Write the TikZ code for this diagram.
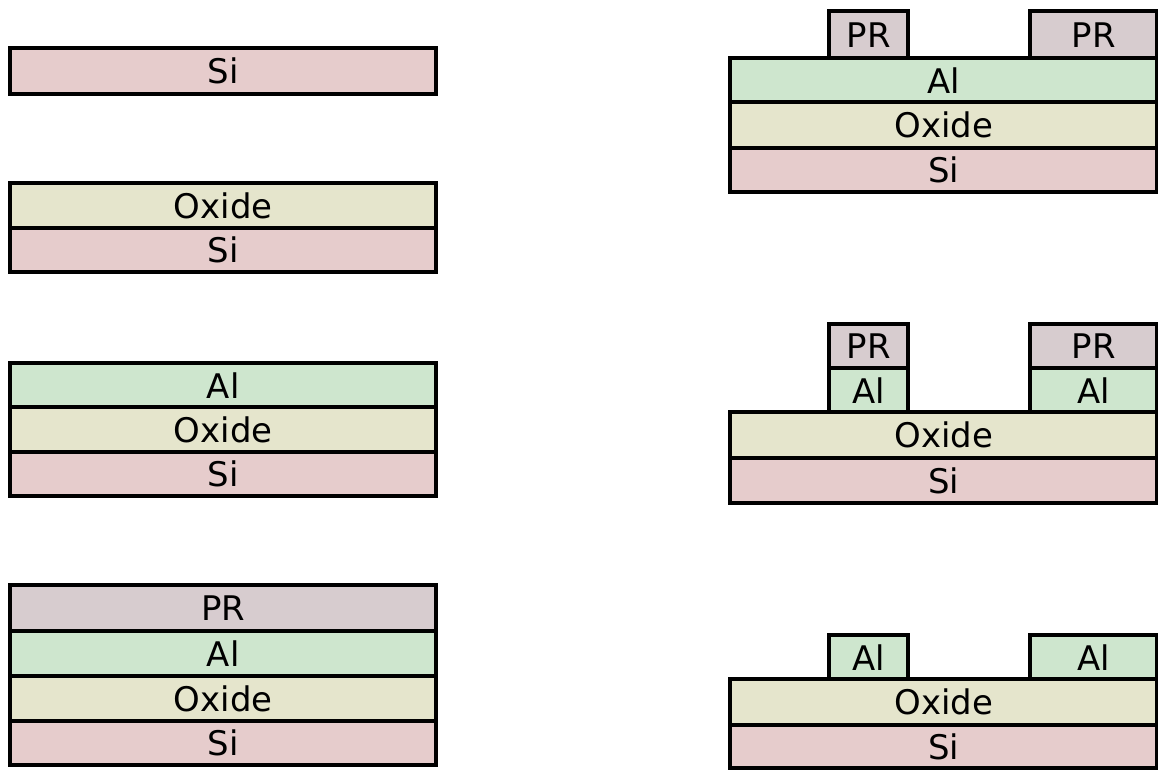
\documentclass[tikz,border=0pt]{standalone}
\usepackage{fontspec}
\setmainfont{DejaVu Sans}
\definecolor{siC}{RGB}{230,204,204}
\definecolor{oxC}{RGB}{229,229,204}
\definecolor{alC}{RGB}{206,230,206}
\definecolor{prC}{RGB}{215,204,207}
\begin{document}
\begin{tikzpicture}[x=0.02cm,y=-0.02cm,
  layer/.style={draw=black, line width=2.5pt, inner sep=0pt, anchor=north west,
    font=\fontsize{19.3}{22}\selectfont},
  wd/.style={minimum width=#1*0.02cm},
  ht/.style={minimum height=#1*0.02cm},
  si/.style={layer, fill=siC},
  ox/.style={layer, fill=oxC},
  al/.style={layer, fill=alC},
  pr/.style={layer, fill=prC}]
\useasboundingbox (0,0) rectangle (1158,769);

% step 1: bare wafer
\node[si, wd=426, ht=46] (s1si) at (8,46) {Si};

% step 2: oxidation
\node[ox, wd=426, ht=45] (s2ox) at (8,181) {Oxide};
\node[si, wd=426, ht=44] (s2si) at (8,226) {Si};

% step 3: aluminium deposition
\node[al, wd=426, ht=44] (s3al) at (8,361) {Al};
\node[ox, wd=426, ht=45] (s3ox) at (8,405) {Oxide};
\node[si, wd=426, ht=44] (s3si) at (8,450) {Si};

% step 4: photoresist coating
\node[pr, wd=426, ht=46] (s4pr) at (8,583) {PR};
\node[al, wd=426, ht=45] (s4al) at (8,629) {Al};
\node[ox, wd=426, ht=45] (s4ox) at (8,674) {Oxide};
\node[si, wd=426, ht=44] (s4si) at (8,719) {Si};

% step 5: resist patterned
\node[pr, wd=79, ht=47] (s5pra) at (827,9) {PR};
\node[pr, wd=127, ht=47] (s5prb) at (1028,9) {PR};
\node[al, wd=427, ht=44] (s5al) at (728,56) {Al};
\node[ox, wd=427, ht=46] (s5ox) at (728,100) {Oxide};
\node[si, wd=427, ht=44] (s5si) at (728,146) {Si};

% step 6: aluminium etched
\node[pr, wd=79, ht=44] (s6pra) at (827,322) {PR};
\node[pr, wd=127, ht=44] (s6prb) at (1028,322) {PR};
\node[al, wd=79, ht=44] (s6ala) at (827,366) {Al};
\node[al, wd=127, ht=44] (s6alb) at (1028,366) {Al};
\node[ox, wd=427, ht=46] (s6ox) at (728,410) {Oxide};
\node[si, wd=427, ht=45] (s6si) at (728,456) {Si};

% step 7: resist stripped
\node[al, wd=79, ht=44] (s7ala) at (827,633) {Al};
\node[al, wd=127, ht=44] (s7alb) at (1028,633) {Al};
\node[ox, wd=427, ht=46] (s7ox) at (728,677) {Oxide};
\node[si, wd=427, ht=43] (s7si) at (728,723) {Si};
\end{tikzpicture}
\end{document}
